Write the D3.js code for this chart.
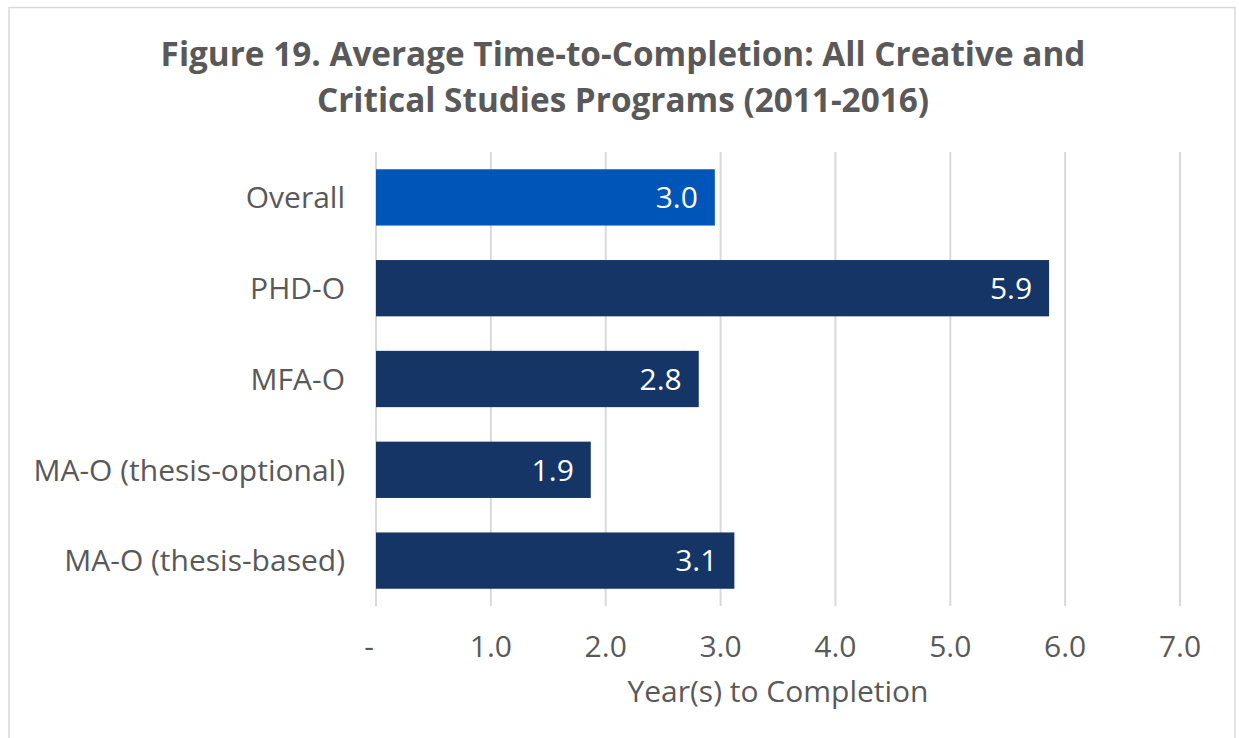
<!DOCTYPE html>
<meta charset="utf-8">
<html lang="en">
<head>
    <title>Figure 19. Average Time-to-Completion</title>
    <script src="https://d3js.org/d3.v7.min.js"></script>
    <style>
        body {
            margin: 0;
            background-color: #ffffff;
        }
        .label {
            font-family: "Open Sans", sans-serif;
            font-size: 30px;
            fill: #595959;
        }
        .title {
            font-family: "Open Sans", sans-serif;
            font-size: 33.3px;
            font-weight: bold;
            fill: #595959;
        }
    </style>
</head>
<body>
    <svg width="1239" height="738"></svg>
    <script>
        // Data
        var categories = ["Overall", "PHD-O", "MFA-O", "MA-O (thesis-optional)", "MA-O (thesis-based)"];
        var years = [2.95, 5.86, 2.81, 1.87, 3.12];
        var tickValues = [0, 1, 2, 3, 4, 5, 6, 7];
        var titleLines = ["Figure 19. Average Time-to-Completion: All Creative and",
                          "Critical Studies Programs (2011-2016)"];

        var svg = d3.select("svg");

        // chart border
        svg.append("rect")
            .attr("x", 9)
            .attr("y", 7.5)
            .attr("width", 1226)
            .attr("height", 760)
            .attr("fill", "none")
            .attr("stroke", "#d9d9d9")
            .attr("stroke-width", 1.5);

        var x = d3.scaleLinear()
            .domain([0, 7])
            .range([376, 1180]);

        var y = d3.scaleBand()
            .domain(categories)
            .range([152, 606])
            .paddingInner(0.38)
            .paddingOuter(0.19);

        // Title
        svg.selectAll(".title")
            .data(titleLines)
            .enter().append("text")
            .attr("class", "title")
            .attr("x", 623)
            .attr("y", function(d, i) { return 66 + i * 46; })
            .attr("text-anchor", "middle")
            .text(function(d) { return d; });

        // Vertical gridlines
        svg.append("g")
            .selectAll("line")
            .data(tickValues)
            .enter().append("line")
            .attr("x1", function(d) { return x(d); })
            .attr("x2", function(d) { return x(d); })
            .attr("y1", 152)
            .attr("y2", 606)
            .attr("stroke", "#d9d9d9")
            .attr("stroke-width", 2);

        // Bars
        svg.append("g")
            .selectAll("rect")
            .data(categories)
            .enter().append("rect")
            .attr("x", x(0))
            .attr("y", function(d) { return y(d); })
            .attr("width", function(d, i) { return x(years[i]) - x(0); })
            .attr("height", y.bandwidth())
            .attr("fill", function(d, i) { return i === 0 ? "#0055b8" : "#143566"; });

        // Value labels inside bars
        svg.append("g")
            .selectAll("text")
            .data(categories)
            .enter().append("text")
            .attr("class", "label")
            .attr("x", function(d, i) { return x(years[i]) - 17; })
            .attr("y", function(d) { return y(d) + y.bandwidth() / 2; })
            .attr("dy", "0.36em")
            .attr("text-anchor", "end")
            .style("fill", "#ffffff")
            .text(function(d, i) { return d3.format(".1f")(years[i]); });

        // Category labels
        svg.append("g")
            .selectAll("text")
            .data(categories)
            .enter().append("text")
            .attr("class", "label")
            .attr("x", 345)
            .attr("y", function(d) { return y(d) + y.bandwidth() / 2; })
            .attr("dy", "0.36em")
            .attr("text-anchor", "end")
            .text(function(d) { return d; });

        // X tick labels
        svg.append("g")
            .selectAll("text")
            .data(tickValues)
            .enter().append("text")
            .attr("class", "label")
            .attr("x", function(d) { return d === 0 ? x(d) - 7 : x(d); })
            .attr("y", 657)
            .attr("text-anchor", "middle")
            .text(function(d) { return d === 0 ? "-" : d3.format(".1f")(d); });

        // X axis title
        svg.append("text")
            .attr("class", "label")
            .attr("x", (x(0) + x(7)) / 2)
            .attr("y", 702)
            .attr("text-anchor", "middle")
            .text("Year(s) to Completion");
    </script>
</body>
</html>
